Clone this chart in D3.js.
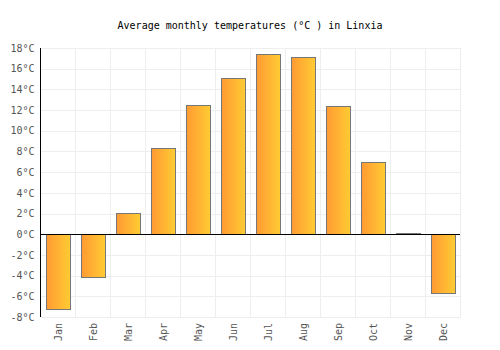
<!DOCTYPE html>
<html>
<head>
<meta charset="utf-8">
<script src="https://cdn.jsdelivr.net/npm/d3@7"></script>
<style>
  body { margin: 0; background: #fff; }
  text { font-family: "DejaVu Sans Mono", monospace; }
</style>
</head>
<body>
<div id="chart"></div>
<script>
const months = ["Jan", "Feb", "Mar", "Apr", "May", "Jun", "Jul", "Aug", "Sep", "Oct", "Nov", "Dec"]
const temps = [-7.2, -4.1, 2.1, 8.3, 12.5, 15.1, 17.4, 17.1, 12.4, 7.0, 0.1, -5.7]
const yTicks = [-8, -6, -4, -2, 0, 2, 4, 6, 8, 10, 12, 14, 16, 18]
const title = "Average monthly temperatures (°C ) in Linxia"

const width = 500, height = 350
const margin = {top: 48, right: 40, bottom: 33, left: 40}

const svg = d3.select("#chart").append("svg")
  .attr("width", width)
  .attr("height", height)

const defs = svg.append("defs")
const grad = defs.append("linearGradient").attr("id", "barGrad")
  .attr("x1", "0%").attr("x2", "100%").attr("y1", "0%").attr("y2", "0%")
grad.append("stop").attr("offset", "0%").attr("stop-color", "#ff9a33")
grad.append("stop").attr("offset", "100%").attr("stop-color", "#ffcc33")

let x = d3.scaleBand()
  .domain(months)
  .range([margin.left, width - margin.right])
  .paddingInner(0.32)
  .paddingOuter(0.16)

let y = d3.scaleLinear()
  .domain([-8, 18])
  .range([height - margin.bottom, margin.top])

// grid
const bandStep = x.step()
const gridX = months.map((m, i) => margin.left + i * bandStep).concat([width - margin.right])

svg.append("g")
  .selectAll("line")
  .data(yTicks)
  .join("line")
  .attr("x1", margin.left).attr("x2", width - margin.right)
  .attr("y1", d => Math.round(y(d)) + 0.5).attr("y2", d => Math.round(y(d)) + 0.5)
  .attr("stroke", "#eeeeee")

svg.append("g")
  .selectAll("line")
  .data(gridX)
  .join("line")
  .attr("x1", d => Math.round(d) + 0.5).attr("x2", d => Math.round(d) + 0.5)
  .attr("y1", margin.top).attr("y2", height - margin.bottom + 0.5)
  .attr("stroke", "#eeeeee")

// bars
svg.append("g")
  .selectAll("rect")
  .data(temps)
  .join("rect")
  .attr("x", (d, i) => Math.round(x(months[i])) + 0.5)
  .attr("y", d => Math.round(y(Math.max(0, d))) + 0.5)
  .attr("width", Math.round(x.bandwidth()))
  .attr("height", d => Math.max(1, Math.abs(Math.round(y(d)) - Math.round(y(0)))))
  .attr("fill", "url(#barGrad)")
  .attr("stroke", "#777777")
  .attr("stroke-width", 1)

// zero line
svg.append("line")
  .attr("x1", margin.left).attr("x2", width - margin.right)
  .attr("y1", Math.round(y(0)) + 0.5).attr("y2", Math.round(y(0)) + 0.5)
  .attr("stroke", "#000")

// y axis
let yAxis = g => g
  .attr("transform", `translate(${margin.left + 0.5},0)`)
  .call(d3.axisLeft(y).tickValues(yTicks).tickSize(0).tickPadding(6).tickFormat(d => d + "°C"))
  .call(g => g.select(".domain").attr("stroke", "#000").attr("d", `M0,${margin.top}V${height - margin.bottom}`))
  .call(g => g.selectAll("text").attr("fill", "#555").style("font-size", "10px").style("font-family", "DejaVu Sans Mono, monospace"))

svg.append("g").call(yAxis)

// x labels
svg.append("g")
  .selectAll("text")
  .data(months)
  .join("text")
  .attr("transform", d => `translate(${x(d) + x.bandwidth() / 2 + 4},${height - margin.bottom + 6}) rotate(-90)`)
  .attr("text-anchor", "end")
  .attr("fill", "#555")
  .style("font-size", "10px")
  .text(d => d)

svg.append("text")
  .attr("x", width / 2)
  .attr("y", 29)
  .attr("text-anchor", "middle")
  .attr("fill", "#000")
  .style("font-size", "10px")
  .text(title)
</script>
</body>
</html>
